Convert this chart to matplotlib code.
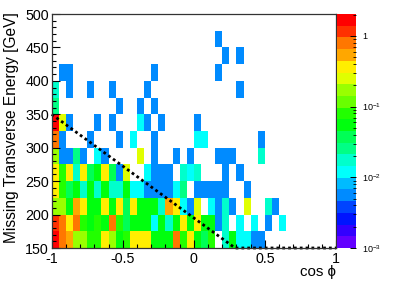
import numpy as np
import matplotlib
matplotlib.use("Agg")
import matplotlib.pyplot as plt
from matplotlib.colors import ListedColormap, LogNorm
from matplotlib.ticker import FixedLocator, NullFormatter
import colorsys

plt.rcParams['font.family'] = ['Liberation Sans', 'DejaVu Sans']
plt.rcParams['mathtext.fontset'] = 'custom'
plt.rcParams['mathtext.rm'] = 'Liberation Sans'
plt.rcParams['mathtext.it'] = 'Liberation Sans'

# ---- data: bin edges ----
x_edges = np.linspace(-1.0, 1.0, 41)      # cos(phi) bins
y_edges = np.linspace(150.0, 500.0, 15)   # MET bins [GeV]

# ---- data: bin contents, one list per MET row (bottom -> top), 40 cos(phi) bins ----
met_150 = [1.7, 0.79, 0.54, 0.17, 0.17, 0.08, 0.08, 0.37, 0.17, 0.055, 0.08, 0.37, 0.37, 0.37, 0.055, 0.055, 0.055, 0.79, 0.08, 0.37,
           0.055, 0.037, 0.08, 0, 0.017, 0.055, 0.012, 0.012, 0.0056, 0.0056, 0, 0, 0, 0, 0, 0, 0, 0, 0, 0]
met_175 = [1.15, 0.79, 0.37, 0.79, 0.08, 0.055, 0.08, 0.055, 0.79, 0.08, 0.037, 0.055, 0.055, 0.055, 0.012, 0.055, 0.017, 0.055, 0.37, 0.055,
           0.37, 0.055, 0.055, 0.0056, 0.017, 0, 0.012, 0, 0.012, 0, 0.0056, 0, 0.012, 0, 0, 0, 0, 0, 0, 0]
met_200 = [0.17, 0.17, 0.055, 0.54, 0.37, 0.055, 0.055, 0.37, 0.055, 0.37, 0.037, 0.37, 0.055, 0.055, 0.055, 0.017, 0.54, 0.37, 0.012, 0.0056,
           0.25, 0, 0.012, 0.0056, 0.017, 0.0056, 0, 0.25, 0, 0, 0.017, 0.0056, 0, 0, 0, 0, 0, 0, 0, 0]
met_225 = [0.37, 0.08, 0.037, 0.055, 0.017, 0.055, 0.017, 0.055, 0.017, 0.017, 0.055, 0.012, 0.012, 0.0056, 0.0056, 0.0056, 0.0056, 0.012, 0.025, 0,
           0.0056, 0.0056, 0.0056, 0.0056, 0.0056, 0, 0, 0.0056, 0, 0, 0, 0, 0, 0, 0, 0, 0, 0, 0, 0]
met_250 = [0.37, 0.08, 0.37, 0.017, 0.37, 0.037, 0.055, 0.37, 0.037, 0.0056, 0.25, 0, 0, 0.012, 0.0056, 0.0056, 0.0056, 0, 0.017, 0.012,
           0.017, 0, 0, 0, 0.0056, 0, 0.0056, 0, 0, 0, 0, 0, 0, 0, 0, 0, 0, 0, 0, 0]
met_275 = [0.17, 0.0056, 0.0056, 0.025, 0.0056, 0, 0.012, 0.0056, 0, 0, 0, 0, 0.25, 0, 0.0056, 0, 0, 0.0056, 0, 0.0056,
           0, 0, 0, 0.0056, 0.0056, 0.0056, 0, 0, 0, 0.017, 0, 0, 0, 0, 0, 0, 0, 0, 0, 0]
met_300 = [0.79, 0.0056, 0, 0, 0, 0.0056, 0, 0, 0, 0.0056, 0, 0.012, 0, 0, 0.0056, 0, 0, 0, 0, 0,
           0.012, 0.012, 0, 0, 0, 0, 0, 0, 0, 0.0056, 0, 0, 0, 0, 0, 0, 0, 0, 0, 0]
met_325 = [1.7, 0.25, 0.0056, 0, 0, 0, 0.0056, 0, 0.0056, 0, 0, 0, 0.012, 0.0056, 0, 0.0056, 0, 0, 0, 0,
           0.0056, 0, 0, 0, 0, 0, 0, 0, 0, 0, 0, 0, 0, 0, 0, 0, 0, 0, 0, 0]
met_350 = [0.025, 0, 0, 0, 0, 0, 0, 0, 0, 0.0056, 0, 0, 0.0056, 0, 0.0056, 0, 0, 0, 0, 0,
           0, 0, 0, 0, 0, 0, 0, 0, 0, 0, 0, 0, 0, 0, 0, 0, 0, 0, 0, 0]
met_375 = [0.017, 0, 0.0056, 0, 0, 0.0056, 0, 0, 0.0056, 0, 0, 0, 0, 0.0056, 0, 0, 0, 0, 0, 0,
           0, 0, 0, 0, 0, 0, 0.0056, 0, 0, 0, 0, 0, 0, 0, 0, 0, 0, 0, 0, 0]
met_400 = [0, 0.0056, 0.0056, 0, 0, 0, 0, 0, 0, 0, 0, 0, 0, 0, 0.0056, 0, 0, 0, 0, 0,
           0, 0, 0, 0.0056, 0, 0, 0, 0, 0, 0, 0, 0, 0, 0, 0, 0, 0, 0, 0, 0]
met_425 = [0, 0, 0, 0, 0, 0, 0, 0, 0, 0, 0, 0, 0, 0, 0, 0, 0, 0, 0, 0,
           0, 0, 0, 0, 0.0056, 0, 0.0056, 0, 0, 0, 0, 0, 0, 0, 0, 0, 0, 0, 0, 0]
met_450 = [0, 0, 0, 0, 0, 0, 0, 0, 0, 0, 0, 0, 0, 0, 0, 0, 0, 0, 0, 0,
           0, 0, 0, 0.0056, 0, 0, 0, 0, 0, 0, 0, 0, 0, 0, 0, 0, 0, 0, 0, 0]
met_475 = [0] * 40

rows = [met_150, met_175, met_200, met_225, met_250, met_275, met_300,
        met_325, met_350, met_375, met_400, met_425, met_450, met_475]

# dotted boundary line
line_x = [-1.0, 0.29, 1.0]
line_y = [350.0, 150.0, 150.0]

z_min, z_max = 1e-3, 2.04
colorbar_ticks = [1e-3, 1e-2, 1e-1, 1.0]
colorbar_labels = [r'$\mathregular{10^{-3}}$', r'$\mathregular{10^{-2}}$', r'$\mathregular{10^{-1}}$', '1']

# ---- ROOT "pretty" palette, 20 contour levels ----
ncont = 20
cols = []
for j in range(ncont):
    i = int((j + 0.99) * 50 / ncont)
    hue = 280 - (i + 1) * 280 / 50
    cols.append(colorsys.hls_to_rgb(hue / 360.0, 0.5, 1.0))
cmap = ListedColormap(cols)
cmap.set_bad('white')
norm = LogNorm(vmin=z_min, vmax=z_max)

Z = np.ma.masked_less_equal(np.array(rows, dtype=float), 0)

W, H = 395, 283
fig = plt.figure(figsize=(W / 100, H / 100), dpi=100)
L, R, T, B = 51.7, 336.0, 14.0, 248.0
ax = fig.add_axes([L / W, 1 - B / H, (R - L) / W, (B - T) / H])

mesh = ax.pcolormesh(x_edges, y_edges, Z, cmap=cmap, norm=norm, shading='flat')
ax.plot(line_x, line_y, color='black', lw=2.0, linestyle=(0, (1.0, 1.1)),
        clip_on=False, zorder=5, dash_capstyle='butt')

ax.set_xlim(-1, 1)
ax.set_ylim(150, 500)
ax.set_xticks([-1, -0.5, 0, 0.5, 1])
ax.set_xticklabels(['-1', '-0.5', '0', '0.5', '1'])
ax.set_xticks(np.arange(-1, 1.001, 0.1), minor=True)
ax.set_yticks(np.arange(150, 501, 50))
ax.set_yticks(np.arange(150, 501, 10), minor=True)
ax.tick_params(which='both', direction='in', top=False, right=False, labelsize=10.3, colors='black')
ax.tick_params(which='major', length=5.5, width=0.8)
ax.tick_params(which='minor', length=2.8, width=0.8)
ax.tick_params(axis='x', pad=3)
ax.tick_params(axis='y', pad=2)
for s in ax.spines.values():
    s.set_linewidth(0.9)
    s.set_color('#333333')
    s.set_zorder(6)

fig.text(12 / W, 1 - 12 / H, 'Missing Transverse Energy [GeV]', rotation=90,
         ha='center', va='top', fontsize=11.2)
fig.text(336 / W, 1 - 272 / H, 'cos \u03d5', ha='right', va='center', fontsize=10.8)

# ---- colour bar ----
cax = fig.add_axes([337 / W, 1 - B / H, 19 / W, (B - T) / H])
cb = fig.colorbar(mesh, cax=cax)
cb.outline.set_visible(False)
cax.yaxis.set_major_locator(FixedLocator(colorbar_ticks))
cax.set_yticklabels(colorbar_labels)
minors = [m * 10.0 ** e for e in range(-3, 1) for m in range(2, 10)]
cax.yaxis.set_minor_locator(FixedLocator([v for v in minors if v < z_max]))
cax.yaxis.set_minor_formatter(NullFormatter())
cax.tick_params(which='both', direction='in', right=True, left=False, labelsize=6.5, pad=4.5, colors='black')
cax.tick_params(which='major', length=4, width=0.7)
cax.tick_params(which='minor', length=2, width=0.6)

fig.savefig('out.png', dpi=100)
